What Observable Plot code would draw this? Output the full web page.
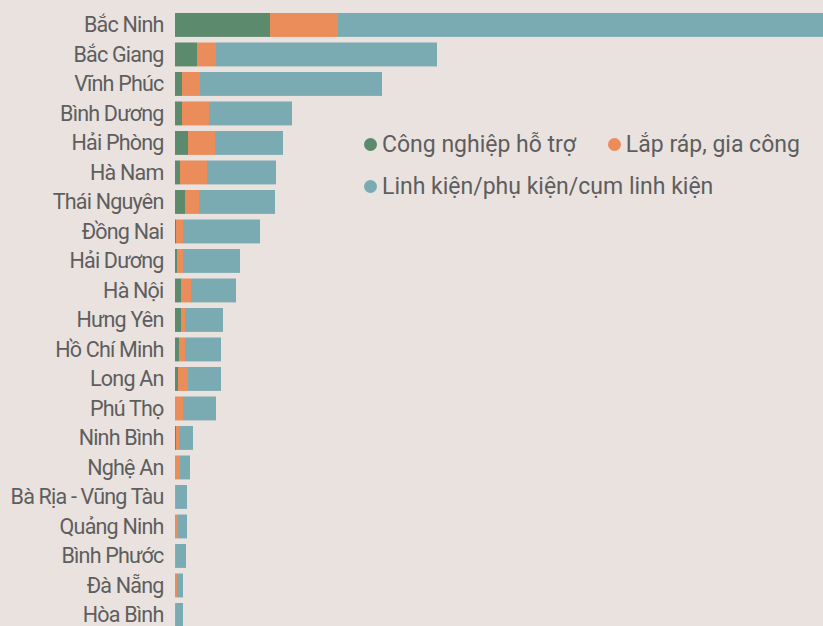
<!DOCTYPE html>
<html>
<head>
<meta charset="utf-8">
<script src="https://cdn.jsdelivr.net/npm/d3@7"></script>
<script src="https://cdn.jsdelivr.net/npm/@observablehq/plot@0.6"></script>
<style>
  html, body { margin: 0; padding: 0; background: #e9e2df; }
  #wrap { position: relative; width: 823px; height: 626px; overflow: hidden; background: #e9e2df; }
  #legend { position: absolute; left: 364px; top: 128px; width: 459px; white-space: nowrap; font-family: Roboto, "Noto Sans", sans-serif; font-size: 23px; color: #5e5e5e; }
  .row { display: flex; align-items: center; height: 32px; margin-bottom: 10px; }
  .item { display: flex; align-items: center; margin-right: 32px; flex: none; }
  .sw { width: 13px; height: 13px; border-radius: 50%; margin-right: 5px; flex: none; }
</style>
</head>
<body>
<div id="wrap"><div id="chart"></div><div id="legend"></div></div>
<script>
const provinces = ["Bắc Ninh","Bắc Giang","Vĩnh Phúc","Bình Dương","Hải Phòng","Hà Nam","Thái Nguyên","Đồng Nai","Hải Dương","Hà Nội","Hưng Yên","Hồ Chí Minh","Long An","Phú Thọ","Ninh Bình","Nghệ An","Bà Rịa - Vũng Tàu","Quảng Ninh","Bình Phước","Đà Nẵng","Hòa Bình"];
const support    = [95, 22, 7, 7, 13, 5, 10, 1, 2, 6, 6, 4, 3, 0, 1, 0, 0, 0, 0, 0, 0];
const assembly   = [68, 19, 18, 27, 27, 27, 14, 7, 6, 10, 4, 6, 10, 8, 3, 5, 1, 3, 1, 2, 1];
const components = [520, 221, 182, 83, 68, 69, 76, 77, 57, 45, 38, 36, 33, 33, 14, 10, 11, 9, 10, 6, 7];
const seriesNames = ["Công nghiệp hỗ trợ", "Lắp ráp, gia công", "Linh kiện/phụ kiện/cụm linh kiện"];
const seriesColors = ["#5b8a6d", "#eb8c5b", "#7aabb2"];
const xMax = 648;

const rows = [];
provinces.forEach((p, i) => {
  rows.push({province: p, type: seriesNames[0], value: support[i]});
  rows.push({province: p, type: seriesNames[1], value: assembly[i]});
  rows.push({province: p, type: seriesNames[2], value: components[i]});
});

const chart = Plot.plot({
  width: 823,
  height: 626,
  marginLeft: 175,
  marginRight: 0,
  marginTop: 0,
  marginBottom: 0,
  style: { background: "#e9e2df", fontFamily: "Roboto, 'Noto Sans', sans-serif", overflow: "hidden" },
  x: { domain: [0, xMax], range: [175, 823], axis: null },
  y: { domain: provinces, range: [7.4, 632.5], padding: 0.19, round: false, label: null },
  color: { domain: seriesNames, range: seriesColors },
  marks: [
    Plot.barX(rows, Plot.stackX({ y: "province", x: "value", fill: "type", order: seriesNames, clip: true })),
    Plot.axisY({ tickSize: 0, tickPadding: 12, fontSize: 21.5, fill: "#5e5e5e", label: null })
  ]
});
chart.querySelectorAll("g[aria-label='y-axis tick label']").forEach(t => { t.setAttribute("letter-spacing", "-0.8"); });
document.getElementById("chart").appendChild(chart);

const legend = document.getElementById("legend");
const groups = [[0, 1], [2]];
groups.forEach(g => {
  const row = document.createElement("div");
  row.className = "row";
  g.forEach(i => {
    const it = document.createElement("div");
    it.className = "item";
    const sw = document.createElement("span");
    sw.className = "sw";
    sw.style.background = seriesColors[i];
    const tx = document.createElement("span");
    tx.textContent = seriesNames[i];
    it.appendChild(sw); it.appendChild(tx);
    row.appendChild(it);
  });
  legend.appendChild(row);
});
</script>
</body>
</html>
